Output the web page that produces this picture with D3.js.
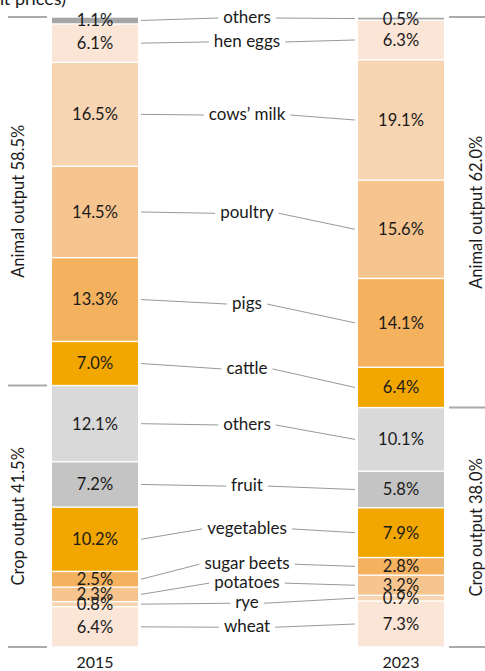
<!DOCTYPE html>
<html><head><meta charset="utf-8">
<script src="https://cdn.jsdelivr.net/npm/d3@7"></script>
<style>
html,body{margin:0;padding:0;background:#fff;overflow:hidden}
text{font-family:Lato,"Open Sans",sans-serif;fill:#1a1a1a}
</style></head>
<body>
<svg id="c" width="485" height="671"></svg>
<script>
const categories = ["others","hen eggs","cows’ milk","poultry","pigs","cattle","others","fruit","vegetables","sugar beets","potatoes","rye","wheat"];
const years = ["2015","2023"];
const values2015 = [1.1,6.1,16.5,14.5,13.3,7.0,12.1,7.2,10.2,2.5,2.3,0.8,6.4];
const values2023 = [0.5,6.3,19.1,15.6,14.1,6.4,10.1,5.8,7.9,2.8,3.2,0.9,7.3];
const groups = ["Animal output","Crop output"];
const groupTotals2015 = [58.5,41.5];
const groupTotals2023 = [62.0,38.0];
const labelAt = [0,3.8,15.4,31,45.4,55.7,64.6,74.3,81.1,86.7,89.7,92.9,96.7];
const colors = ["#a6a6a6","#fbe5d6","#f8d5b2","#f6c48f","#f4b25f","#f2a600","#d9d9d9","#c4c4c4","#f2a600","#f4b25f","#f6c48f","#f8d5b2","#fbe5d6"];

const svg = d3.select("#c");
const y = d3.scaleLinear().domain([0,100]).range([17,647]);
const x = d3.scaleBand().domain(years).range([52,444]).paddingInner(0.719).paddingOuter(0);
const bw = x.bandwidth();

// title fragment (cropped at the top of the picture)
svg.append("text").attr("x",66).attr("y",5).attr("text-anchor","end").style("font-size","18px")
  .text("Structure of agricultural output (at current prices)");

function stack(vals){ let c=0; return vals.map(v=>{const s={y0:c,y1:c+v,v}; c+=v; return s;}); }
const series = [stack(values2015), stack(values2023)];

series.forEach((st,si)=>{
  const g = svg.append("g");
  const x0 = x(years[si]);
  g.selectAll("rect").data(st).join("rect")
    .attr("x",x0).attr("width",bw)
    .attr("y",d=>y(d.y0)+0.7).attr("height",d=>Math.max(0.5,y(d.y1)-y(d.y0)-1.4))
    .attr("fill",(d,i)=>colors[i]);
  g.selectAll("text").data(st).join("text")
    .attr("x",x0+bw/2).attr("y",d=>y((d.y0+d.y1)/2)).attr("dy","0.36em")
    .attr("text-anchor","middle").style("font-size","16.5px")
    .text(d=>d.v.toFixed(1)+"%");
  svg.append("text").attr("x",x0+bw/2).attr("y",668).attr("text-anchor","middle")
    .style("font-size","16px").text(years[si]);
});

// group brackets
const totals=[groupTotals2015,groupTotals2023];
[0,1].forEach(si=>{
  const lx = si===0?[8,47]:[449,485];
  const tx = si===0?18:476;
  let c=0;
  const bounds=[0];
  totals[si].forEach(t=>{c+=t;bounds.push(c);});
  bounds.forEach(b=>{
    svg.append("line").attr("x1",lx[0]).attr("x2",lx[1]).attr("y1",y(b)).attr("y2",y(b))
      .attr("stroke","#aaa").attr("stroke-width",2);
  });
  totals[si].forEach((t,gi)=>{
    const cy = y((bounds[gi]+bounds[gi+1])/2);
    svg.append("text").attr("transform",`translate(${tx},${cy}) rotate(-90)`)
      .attr("text-anchor","middle").attr("dy","0.35em").style("font-size","16.5px")
      .text(`${groups[gi]} ${t.toFixed(1)}%`);
  });
});

// category labels with connectors
const cx = 247;
const lEdge = x(years[0])+bw+3, rEdge = x(years[1])-3;
categories.forEach((name,i)=>{
  const ly = y(labelAt[i]);
  const t = svg.append("text").attr("x",cx).attr("y",ly).attr("dy","0.36em")
    .attr("text-anchor","middle").style("font-size","17px").text(name);
  const w = t.node().getComputedTextLength();
  const a = series[0][i], b = series[1][i];
  svg.append("line").attr("x1",lEdge).attr("y1",y((a.y0+a.y1)/2)).attr("x2",cx-w/2-5).attr("y2",ly+1)
    .attr("stroke","#999").attr("stroke-width",1);
  svg.append("line").attr("x1",cx+w/2+5).attr("y1",ly+1).attr("x2",rEdge).attr("y2",y((b.y0+b.y1)/2))
    .attr("stroke","#999").attr("stroke-width",1);
});
</script>
</body></html>
